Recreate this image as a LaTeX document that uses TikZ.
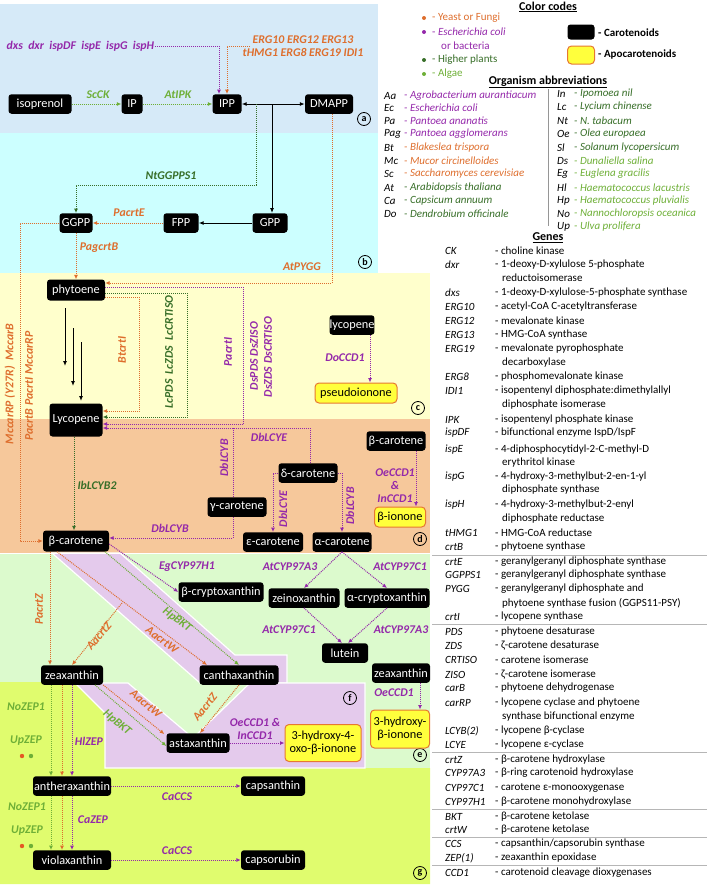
\documentclass[tikz,border=0pt]{standalone}
\usepackage{fontspec}
\setmainfont{Carlito}
\usetikzlibrary{arrows.meta,calc}
\definecolor{corg}{RGB}{222,110,45}
\definecolor{cpur}{RGB}{148,40,170}
\definecolor{cdgr}{RGB}{55,110,40}
\definecolor{clgr}{RGB}{110,175,55}
\definecolor{bga}{RGB}{214,234,248}
\definecolor{bgb}{RGB}{204,255,255}
\definecolor{bgc}{RGB}{255,255,204}
\definecolor{bgd}{RGB}{246,200,155}
\definecolor{bge}{RGB}{220,250,205}
\definecolor{bgf}{RGB}{228,202,236}
\definecolor{bgg}{RGB}{224,252,110}
\definecolor{ybox}{RGB}{255,255,60}
\definecolor{ybord}{RGB}{230,120,50}
\definecolor{sepg}{RGB}{150,150,150}
\newcommand\nodefont{\fontsize{12.3}{13.5}\selectfont}
\newcommand\labfont{\fontsize{11.8}{13}\selectfont\bfseries\itshape}
\newcommand\legfont{\fontsize{11}{12.5}\selectfont}
\begin{document}
\begin{tikzpicture}[x=1pt,y=-1pt,
  cb/.style={fill=black,text=white,rounded corners=3pt,inner sep=0pt,minimum height=19.5pt,font=\nodefont},
  yb/.style={fill=ybox,draw=ybord,line width=1pt,rounded corners=4pt,text=black,inner sep=0pt,minimum height=20pt,font=\nodefont,align=center},
  wd/.style={minimum width=#1},
  conn/.style={densely dotted,line width=1pt,-{Latex[length=4.5pt,width=4pt]}},
  co/.style={conn,draw=corg},
  cp/.style={conn,draw=cpur},
  cd/.style={conn,draw=cdgr},
  cl/.style={conn,draw=clgr},
  cpl/.style={densely dotted,line width=1pt,draw=cpur},
  bk/.style={line width=1pt,-{Latex[length=5pt,width=4pt]}},
  lab/.style={font=\labfont,inner sep=0.5pt},
  lo/.style={lab,text=corg},
  lp/.style={lab,text=cpur},
  ld/.style={lab,text=cdgr},
  ll/.style={lab,text=clgr},
  pl/.style={circle,draw,line width=0.8pt,inner sep=0pt,minimum size=13pt,font=\bfseries\fontsize{10}{10}\selectfont},
  lg/.style={font=\legfont,inner sep=0pt,anchor=west},
  hd/.style={font=\fontsize{12}{13}\selectfont\bfseries,inner sep=0pt}
]
\useasboundingbox (0,0) rectangle (708,886);
% ---------- panel backgrounds ----------
\fill[bga] (0,4) rectangle (378,133);
\fill[bgb] (0,133) rectangle (378,273);
\fill[bgc] (0,273) rectangle (430,419);
\fill[bgd] (0,419) rectangle (430,553);
\fill[bge] (0,553) rectangle (430,768);
\fill[bgg] (0,682) -- (75,682) -- (105,712) -- (105,768) -- (430,768) -- (430,884) -- (0,884) -- cycle;
\filldraw[fill=bgf,draw=white,line width=1.2pt] (52,553) -- (120,553) -- (235,655) -- (287,655) -- (287,683) -- (200,683) -- cycle;
\filldraw[fill=bgf,draw=white,line width=1.2pt] (75,683) -- (128,683) -- (193,738) -- (250,683) -- (365,683) -- (365,768) -- (105,768) -- (105,713) -- cycle;
\draw[white,line width=1pt] (0,553) -- (430,553);
% ---------- panel letters ----------
\node[pl] (pa) at (364,119) {a};
\node[pl] (pb) at (365,262) {b};
\node[pl] (pc) at (418,408) {c};
\node[pl] (pd) at (420,539) {d};
\node[pl] (pe) at (420,755) {e};
\node[pl] (pf) at (350,698) {f};
\node[pl] (pg) at (420,873) {g};
% ---------- nodes ----------
\node[cb,wd=63pt] (iso) at (40,104) {isoprenol};
\node[cb,wd=21pt] (ip) at (132,104) {IP};
\node[cb,wd=29pt] (ipp) at (227,104) {IPP};
\node[cb,wd=48pt] (dmapp) at (329,104) {DMAPP};
\node[cb,wd=33pt] (ggpp) at (76,223) {GGPP};
\node[cb,wd=35pt] (fpp) at (181,223) {FPP};
\node[cb,wd=35pt] (gpp) at (270,223) {GPP};
\node[cb,wd=58pt,minimum height=21pt] (phyt) at (76,290) {phytoene};
\node[cb,wd=53pt,minimum height=33pt] (lyco) at (76,420) {Lycopene};
\node[cb,wd=40pt] (lycr) at (352,325) {lycopene};
\node[yb,wd=82pt] (pseudo) at (356,393) {pseudoionone};
\node[cb,wd=66pt,minimum height=21pt] (bcar) at (76,541) {β-carotene};
\node[cb,wd=59pt] (gcar) at (237,507) {γ-carotene};
\node[cb,wd=59pt] (dcar) at (308,473) {δ-carotene};
\node[cb,wd=60pt] (ecar) at (273,542) {ε-carotene};
\node[cb,wd=59pt] (acar) at (342,542) {α-carotene};
\node[cb,wd=59pt] (bcarr) at (396,441) {β-carotene};
\node[yb,wd=51pt] (bion) at (400,517) {β-ionone};
\node[cb,wd=85pt] (bcry) at (221,592) {β-cryptoxanthin};
\node[cb,wd=71pt] (zein) at (304,598) {zeinoxanthin};
\node[cb,wd=85pt] (acry) at (387,598) {α-cryptoxanthin};
\node[cb,wd=46pt] (lut) at (345,653) {lutein};
\node[cb,wd=58pt] (zeaxr) at (401,673) {zeaxanthin};
\node[yb,wd=59pt,minimum height=38pt] (hbion) at (400,729) {3-hydroxy-\\β-ionone};
\node[cb,wd=62pt] (zeax) at (72,675) {zeaxanthin};
\node[cb,wd=79pt] (canth) at (239,675) {canthaxanthin};
\node[cb,wd=63pt] (asta) at (198,743) {astaxanthin};
\node[yb,wd=76pt,minimum height=37pt] (hobion) at (323,743) {3-hydroxy-4-\\oxo-β-ionone};
\node[cb,wd=78pt] (anth) at (72,786) {antheraxanthin};
\node[cb,wd=78pt] (viol) at (72,860) {violaxanthin};
\node[cb,wd=64pt] (caps) at (273,786) {capsanthin};
\node[cb,wd=64pt] (capsr) at (273,860) {capsorubin};
% ---------- panel a ----------
\draw[cl] (iso.east) -- (ip.west);
\node[ll] (lsck) at (98,95) {ScCK};
\draw[cl] (ip.east) -- (ipp.west);
\node[ll] (latipk) at (178,95) {AtIPK};
\node[lp,anchor=west] (dxs) at (6,46) {dxs\ \ dxr\ \ ispDF\ \ ispE\ \ ispG\ \ ispH};
\draw[cp] (dxs.east) -| ($(ipp.north)+(-8,0)$);
\node[lo,align=center] (erg) at (303,46) {ERG10 ERG12 ERG13\\[0pt]tHMG1 ERG8 ERG19 IDI1};
\coordinate (ergc) at (250,46);
\draw[co] (ergc) -| (ipp.north);
\draw[line width=1pt,{Latex[length=5pt,width=4pt]}-{Latex[length=5pt,width=4pt]}] (ipp.east) -- (dmapp.west);
\coordinate (gx) at ($(gpp.north)+(2,0)$);
\draw[bk] (gx |- ipp.east) -- (gx);
\coordinate (ntg) at (256,104);
\draw[cd] (ntg) -- ++(0,81) -| (ggpp.north);
\node[ld] (lnt) at (171,176) {NtGGPPS1};
\draw[co] ($(dmapp.south)+(3,0)$) |- ($(phyt.east)+(0,-7)$);
\node[lo] (lpygg) at (302,267) {AtPYGG};
% ---------- panel b ----------
\draw[bk] (gpp.west) -- (fpp.east);
\draw[co] (fpp.west) -- (ggpp.east);
\node[lo] (lcrte) at (129,213) {PacrtE};
\draw[co] (ggpp.south) -- (phyt.north);
\node[lo] (lcrtb) at (99,248) {PagcrtB};
\draw[co] (ggpp.west) -- ++(-39,0) |- (bcar.west);
\node[lo,rotate=90] (lmc1) at (10,384) {MccarRP (Y27R)\ \ MccarB};
\node[lo,rotate=90] (lmc2) at (29,386) {PacrtB PacrtI MccarRP};
% ---------- panel c ----------
\coordinate (s1) at (65,308); \coordinate (e1) at (65,366);
\coordinate (s2) at (73,328); \coordinate (e2) at (73,386);
\coordinate (s3) at (81,342); \coordinate (e3) at (81,401);
\draw[bk] (s1) -- (e1);
\draw[bk] (s2) -- (e2);
\draw[bk] (s3) -- (e3);
\draw[co] ($(phyt.east)+(0,7)$) -| ($(lyco.east)+(37,-9)$) -- ($(lyco.east)+(0,-9)$);
\node[lo,rotate=90] (lbt) at (122,350) {BtcrtI};
\draw[cd] ($(phyt.east)+(0,3)$) -| ($(lyco.east)+(85,-3)$) -- ($(lyco.east)+(0,-3)$);
\node[ld,rotate=90] (llc) at (169,352) {LcPDS\ \ LcZDS\ \ LcCRTISO};
\draw[cp] ($(phyt.east)+(0,-3)$) -| ($(lyco.east)+(141,4)$) -- ($(lyco.east)+(0,4)$);
\node[lp,rotate=90] (lpa) at (228,352) {PacrtI};
\node[lp,rotate=90] (lds1) at (254,356) {DsPDS DsZISO};
\node[lp,rotate=90] (lds2) at (268,357) {DsZDS DsCRTISO};
\draw[cp] ($(lycr.south)+(18,0)$) -- ($(pseudo.north)+(14,0)$);
\node[lp] (ldo) at (345,358) {DoCCD1};
% ---------- panel d ----------
\draw[cp] ($(dcar.north)+(2,0)$) |- ($(lyco.east)+(0,8)$);
\node[lp] (ldbe1) at (269,437) {DbLCYE};
\draw[cpl] ($(gcar.north)+(-4,0)$) -- ($(gcar.north)+(-4,-69)$);
\node[lp,rotate=90] (ldbb1) at (224,458) {DbLCYB};
\draw[cp] ($(gcar.south)+(-4,0)$) |- ($(bcar.east)+(0,-3)$);
\node[lp] (ldbb2) at (170,528) {DbLCYB};
\draw[cp] (dcar.west) -| (ecar.north);
\node[lp,rotate=90] (ldbe2) at (283,509) {DbLCYE};
\draw[cp] (dcar.east) -| (acar.north);
\node[lp,rotate=90] (ldbb3) at (350,506) {DbLCYB};
\draw[cd] ($(lyco.south)+(-2,0)$) -- ($(bcar.north)+(-2,0)$);
\node[ld] (lib) at (97,485) {IbLCYB2};
\draw[cp] ($(bcarr.south)+(20,0)$) -- ($(bion.north)+(16,0)$);
\node[lp,align=center] (loe1) at (395,486) {OeCCD1\\[0pt]\&\\[0pt]InCCD1};
% ---------- panel e ----------
\draw[cp] ($(bcar.east)+(0,3)$) -- (bcry.west);
\node[lp] (leg) at (187,567) {EgCYP97H1};
\draw[cp] (acar.south) -- (zein.north);
\draw[cp] (acar.south) -- (acry.north);
\node[lp] (la3a) at (290,567) {AtCYP97A3};
\node[lp] (lc1a) at (400,567) {AtCYP97C1};
\draw[cp] (zein.south) -- ($(lut.north)+(-3,0)$);
\draw[cp] (acry.south) -- ($(lut.north)+(3,0)$);
\node[lp] (lc1b) at (289,630) {AtCYP97C1};
\node[lp] (la3b) at (401,630) {AtCYP97A3};
\draw[cp] ($(zeaxr.south)+(19,0)$) -- ($(hbion.north)+(20,0)$);
\node[lp] (loe2) at (394,693) {OeCCD1};
% ---------- panel f ----------
\draw[co] ($(bcar.south)+(-26,0)$) -- ($(zeax.north)+(-22,0)$);
\node[lo,rotate=90] (lpz) at (39,609) {PacrtZ};
\draw[co] ($(bcar.south)+(-19,0)$) -- ($(canth.north)+(-32,0)$);
\draw[cl] ($(bcar.south)+(29,0)$) -- (canth.north);
\node[ll,rotate=-37] (lhp1) at (177,620) {HpBKT};
\node[lo,rotate=-37] (law1) at (162,640) {AacrtW};
\coordinate (azs) at (122,603);
\draw[co] (azs) -- (zeax.north);
\node[lo,rotate=50] (laz1) at (99,636) {AacrtZ};
\draw[co] (zeax.south east) -- ($(asta.north west)+(-2,1)$);
\node[lo,rotate=-40] (law2) at (146,704) {AacrtW};
\draw[cl] ($(zeax.south)+(23,0)$) -- ($(asta.west)+(0,3)$);
\node[ll,rotate=-40] (lhp2) at (117,723) {HpBKT};
\draw[co] (canth.south) -- ($(asta.north)+(2,0)$);
\node[lo,rotate=52] (laz2) at (205,707) {AacrtZ};
\draw[cp] (asta.east) -- (hobion.west);
\node[lp] (loe3) at (255,722) {OeCCD1 \&};
\node[lp] (lin3) at (255,736) {InCCD1};
% ---------- panel g ----------
\draw[cl] ($(zeax.south)+(-21,0)$) -- ($(anth.north)+(-21,0)$);
\draw[co] ($(zeax.south)+(-10,0)$) -- ($(anth.north)+(-10,0)$);
\draw[cp] (zeax.south) -- (anth.north);
\draw[cl] ($(anth.south)+(-21,0)$) -- ($(viol.north)+(-21,0)$);
\draw[co] ($(anth.south)+(-10,0)$) -- ($(viol.north)+(-10,0)$);
\draw[cp] (anth.south) -- (viol.north);
\node[ll] (lno1) at (26,707) {NoZEP1};
\node[ll] (lup1) at (26,741) {UpZEP};
\fill[corg!80!red] (22,756) circle (2.2pt);
\fill[clgr] (31,756) circle (2.2pt);
\node[lp] (lhl) at (89,741) {HlZEP};
\node[ll] (lno2) at (27,807) {NoZEP1};
\node[ll] (lup2) at (27,831) {UpZEP};
\fill[corg!80!red] (22,846) circle (2.2pt);
\fill[clgr] (31,846) circle (2.2pt);
\node[lp] (lcz) at (93,820) {CaZEP};
\draw[cp] (anth.east) -- (caps.west);
\node[lp] (lcc1) at (177,797) {CaCCS};
\draw[cp] (viol.east) -- (capsr.west);
\node[lp] (lcc2) at (177,851) {CaCCS};
% ---------- legend: colour codes ----------
\node[hd] (hcc) at (548,7) {\underline{Color codes}};
\fill[corg] (424,18) circle (2pt);
\fill[cpur] (424,32) circle (2pt);
\fill[cdgr] (424,60) circle (2pt);
\fill[clgr] (424,74) circle (2pt);
\node[lg,text=corg] (c1) at (432,18) {- Yeast or Fungi};
\node[lg,text=cpur] (c2) at (432,32) {- \textit{Escherichia coli}};
\node[lg,text=cpur] (c3) at (441,46) {or bacteria};
\node[lg,text=cdgr] (c4) at (432,60) {- Higher plants};
\node[lg,text=clgr] (c5) at (432,74) {- Algae};
\node[cb,minimum width=27pt,minimum height=15pt] (swk) at (581,32) {};
\node[lg,font=\legfont\bfseries] (tk) at (598,33) {- Carotenoids};
\node[yb,minimum width=27pt,minimum height=18pt] (swy) at (581,55) {};
\node[lg,font=\legfont\bfseries] (ty) at (598,55) {- Apocarotenoids};
% ---------- legend: organisms ----------
\node[hd] (hor) at (548,82) {\underline{Organism abbreviations}};
\draw[sepg,line width=1pt] (548,89) -- (548,226);
\foreach \yy/\ab/\nm/\cl in {96/Aa/Agrobacterium aurantiacum/cpur,108/Ec/Escherichia coli/cpur,121/Pa/Pantoea ananatis/cpur,134/Pag/Pantoea agglomerans/cpur,148/Bt/Blakeslea trispora/corg,161/Mc/Mucor circinelloides/corg,174/Sc/Saccharomyces cerevisiae/corg,188/At/Arabidopsis thaliana/cdgr,201/Ca/Capsicum annuum/cdgr,214/Do/Dendrobium officinale/cdgr}{
  \node[lg] (oa\yy) at (384,\yy) {\textit{\ab}};
  \node[lg,text=\cl] (on\yy) at (404,\yy) {\textit{- \nm}};
}
\foreach \yy/\ab/\nm/\cl in {94/In/Ipomoea nil/cdgr,107/Lc/Lycium chinense/cdgr,121/Nt/N. tabacum/cdgr,134/Oe/Olea europaea/cdgr,148/Sl/Solanum lycopersicum/cdgr,161/Ds/Dunaliella salina/clgr,174/Eg/Euglena gracilis/clgr,188/Hl/Haematococcus lacustris/clgr,201/Hp/Haematococcus pluvialis/clgr,214/No/Nannochloropsis oceanica/clgr,227/Up/Ulva prolifera/clgr}{
  \node[lg] (ra\yy) at (557,\yy) {\textit{\ab}};
  \node[lg,text=\cl] (rn\yy) at (574,\yy) {\textit{- \nm}};
}
% ---------- legend: genes ----------
\node[hd] (hge) at (548,238) {\underline{Genes}};
\foreach \yy/\gn/\gd in {251/CK/{choline kinase},265/dxr/{1-deoxy-D-xylulose 5-phosphate},293/dxs/{1-deoxy-D-xylulose-5-phosphate synthase},307/ERG10/{acetyl-CoA C-acetyltransferase},321/ERG12/{mevalonate kinase},335/ERG13/{HMG-CoA synthase},349/ERG19/{mevalonate pyrophosphate},377/ERG8/{phosphomevalonate kinase},391/IDI1/{isopentenyl diphosphate:dimethylallyl},420/IPK/{isopentenyl phosphate kinase},433/ispDF/{bifunctional enzyme IspD/IspF},450/ispE/{4-diphosphocytidyl-2-C-methyl-D},477/ispG/{4-hydroxy-3-methylbut-2-en-1-yl},505/ispH/{4-hydroxy-3-methylbut-2-enyl},533/tHMG1/{HMG-CoA reductase},547/crtB/{phytoene synthase},562/crtE/{geranylgeranyl diphosphate synthase},575/GGPPS1/{geranylgeranyl diphosphate synthase},589/PYGG/{geranylgeranyl diphosphate and},617/crtI/{lycopene synthase},632/PDS/{phytoene desaturase},646/ZDS/{ζ-carotene desaturase},660/CRTISO/{carotene isomerase},675/ZISO/{ζ-carotene isomerase},688/carB/{phytoene dehydrogenase},703/carRP/{lycopene cyclase and phytoene},731/LCYB(2)/{lycopene β-cyclase},745/LCYE/{lycopene ε-cyclase},760/crtZ/{β-carotene hydroxylase},773/CYP97A3/{β-ring carotenoid hydroxylase},788/CYP97C1/{carotene ε-monooxygenase},802/CYP97H1/{β-carotene monohydroxylase},817/BKT/{β-carotene ketolase},830/crtW/{β-carotene ketolase},844/CCS/{capsanthin/capsorubin synthase},858/ZEP(1)/{zeaxanthin epoxidase},873/CCD1/{carotenoid cleavage dioxygenases}}{
  \node[lg] (gn\yy) at (445,\yy) {\textit{\gn}};
  \node[lg] (gd\yy) at (495,\yy) {- \gd};
}
\foreach \yy/\gd in {278/{reductoisomerase},363/{decarboxylase},405/{diphosphate isomerase},463/{erythritol kinase},490/{diphosphate synthase},519/{diphosphate reductase},603/{phytoene synthase fusion (GGPS11-PSY)},717/{synthase bifunctional enzyme}}{
  \node[lg] (gc\yy) at (502,\yy) {\gd};
}
\foreach \yy in {555,624,752,809,837,865}{
  \draw[sepg!70,line width=0.8pt] (432,\yy) -- (707,\yy);
}
\end{tikzpicture}
\end{document}
